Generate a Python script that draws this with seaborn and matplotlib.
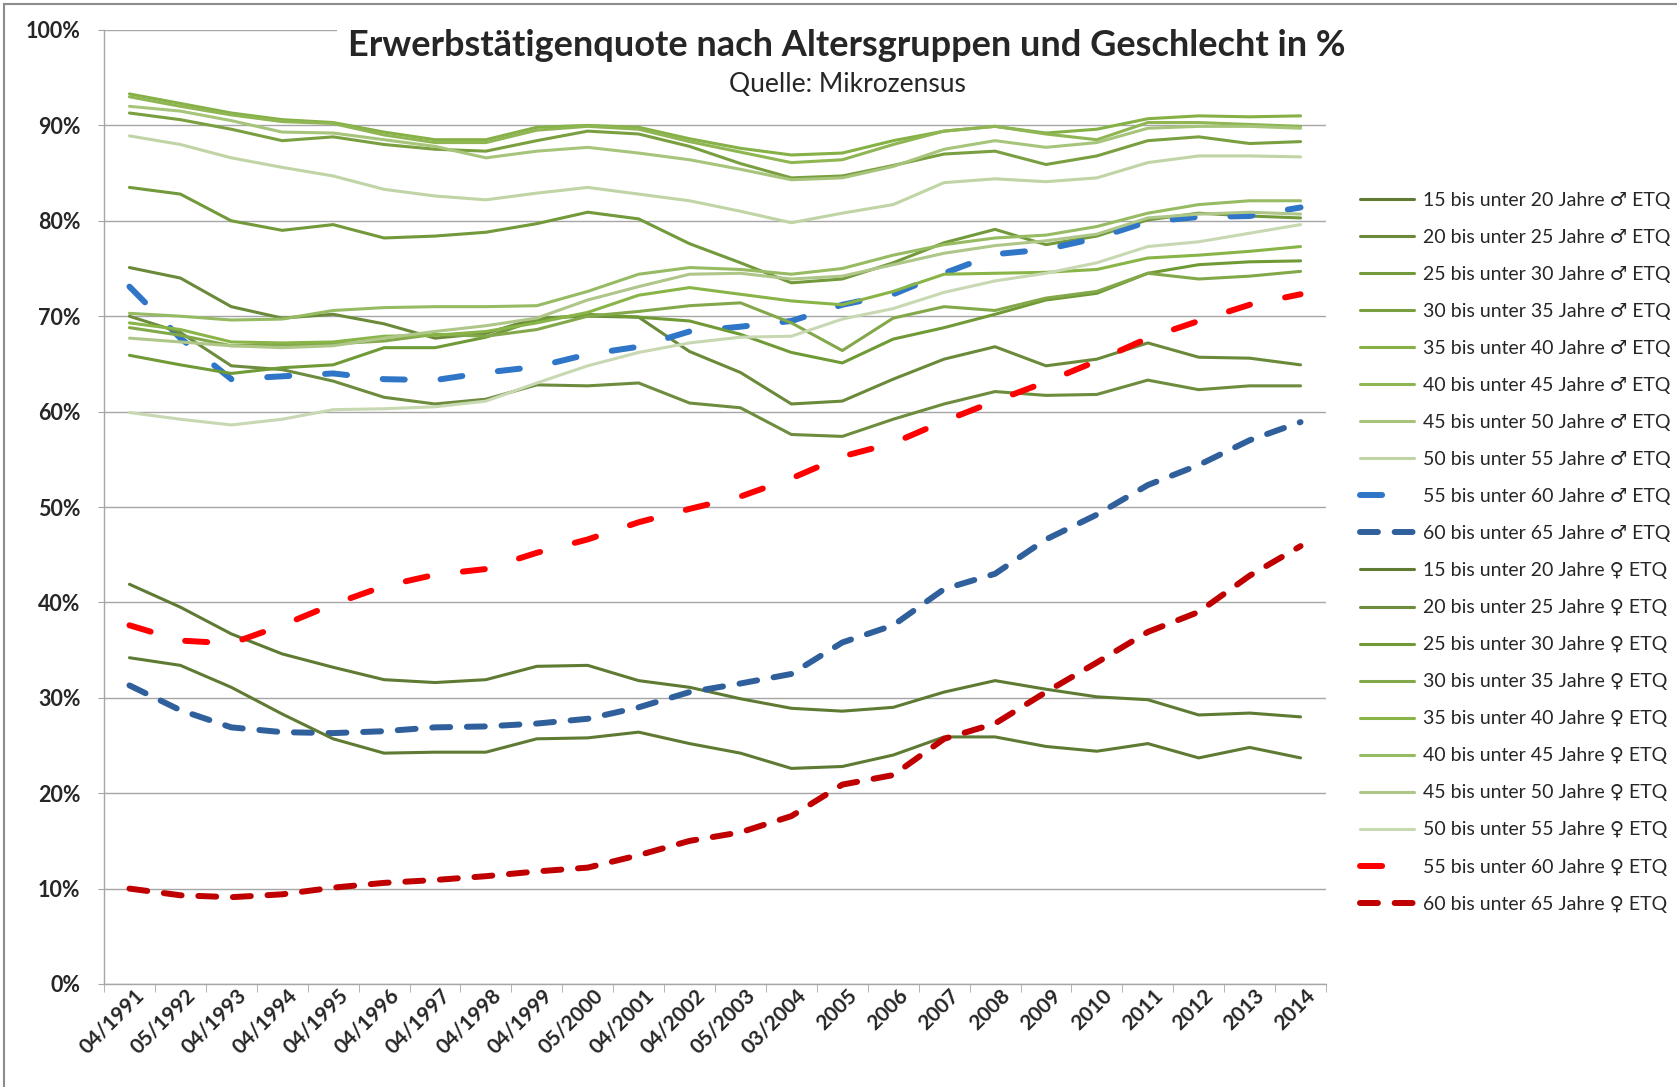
import matplotlib
matplotlib.use("Agg")
import matplotlib.pyplot as plt
import matplotlib.patches as mpatches
import matplotlib.transforms as mtransforms
from matplotlib.ticker import FixedLocator, FuncFormatter
import seaborn as sns

sns.set_style("white")
plt.rcParams["font.family"] = ["Lato", "DejaVu Sans"]
plt.rcParams["lines.dash_capstyle"] = "round"
plt.rcParams["lines.solid_capstyle"] = "round"

# Erhebungszeitpunkte
zeitpunkte = ['04/1991', '05/1992', '04/1993', '04/1994', '04/1995', '04/1996', '04/1997',
              '04/1998', '04/1999', '05/2000', '04/2001', '04/2002', '05/2003', '03/2004',
              '2005', '2006', '2007', '2008', '2009', '2010', '2011', '2012', '2013', '2014']

# Maenner, Erwerbstaetigenquote in %
m15_20 = [41.9, 39.5, 36.7, 34.6, 33.2, 31.9, 31.6, 31.9, 33.3, 33.4, 31.8, 31.1, 29.9, 28.9, 28.6, 29.0, 30.6, 31.8, 30.9, 30.1, 29.8, 28.2, 28.4, 28.0]
m20_25 = [75.1, 74.0, 71.0, 69.8, 70.2, 69.2, 67.7, 68.2, 69.8, 70.0, 69.9, 66.3, 64.1, 60.8, 61.1, 63.4, 65.5, 66.8, 64.8, 65.5, 67.2, 65.7, 65.6, 64.9]
m25_30 = [83.5, 82.8, 80.0, 79.0, 79.6, 78.2, 78.4, 78.8, 79.7, 80.9, 80.2, 77.6, 75.6, 73.5, 73.9, 75.6, 77.7, 79.1, 77.5, 78.4, 80.1, 80.8, 80.5, 80.3]
m30_35 = [91.3, 90.6, 89.6, 88.4, 88.8, 88.0, 87.5, 87.3, 88.4, 89.4, 89.1, 87.8, 86.0, 84.5, 84.7, 85.8, 87.0, 87.3, 85.9, 86.8, 88.4, 88.8, 88.1, 88.3]
m35_40 = [93.3, 92.3, 91.3, 90.6, 90.3, 89.3, 88.5, 88.5, 89.8, 90.0, 89.8, 88.6, 87.6, 86.9, 87.1, 88.4, 89.4, 89.9, 89.2, 89.6, 90.7, 91.0, 90.9, 91.0]
m40_45 = [93.0, 92.0, 91.1, 90.4, 90.2, 89.0, 88.2, 88.2, 89.5, 89.9, 89.6, 88.3, 87.2, 86.1, 86.4, 88.0, 89.4, 89.9, 89.1, 88.5, 90.3, 90.3, 90.1, 89.9]
m45_50 = [92.0, 91.5, 90.5, 89.3, 89.2, 88.5, 87.8, 86.6, 87.3, 87.7, 87.1, 86.4, 85.4, 84.3, 84.5, 85.7, 87.5, 88.4, 87.7, 88.2, 89.7, 89.9, 89.9, 89.7]
m50_55 = [88.9, 88.0, 86.6, 85.6, 84.7, 83.3, 82.6, 82.2, 82.9, 83.5, 82.8, 82.1, 81.0, 79.8, 80.8, 81.7, 84.0, 84.4, 84.1, 84.5, 86.1, 86.8, 86.8, 86.7]
m55_60 = [73.1, 67.7, 63.4, 63.7, 64.0, 63.4, 63.3, 64.1, 64.7, 66.0, 66.8, 68.4, 68.9, 69.5, 71.2, 72.3, 74.5, 76.5, 77.0, 78.2, 79.9, 80.4, 80.5, 81.4]
m60_65 = [31.3, 28.7, 26.9, 26.4, 26.3, 26.5, 26.9, 27.0, 27.3, 27.8, 29.0, 30.6, 31.5, 32.5, 35.8, 37.6, 41.4, 43.0, 46.6, 49.2, 52.3, 54.4, 57.0, 58.9]

# Frauen, Erwerbstaetigenquote in %
f15_20 = [34.2, 33.4, 31.1, 28.3, 25.7, 24.2, 24.3, 24.3, 25.7, 25.8, 26.4, 25.2, 24.2, 22.6, 22.8, 24.0, 25.9, 25.9, 24.9, 24.4, 25.2, 23.7, 24.8, 23.7]
f20_25 = [70.0, 68.3, 64.8, 64.4, 63.2, 61.5, 60.8, 61.3, 62.8, 62.7, 63.0, 60.9, 60.4, 57.6, 57.4, 59.2, 60.8, 62.1, 61.7, 61.8, 63.3, 62.3, 62.7, 62.7]
f25_30 = [65.9, 64.9, 64.0, 64.6, 64.9, 66.7, 66.7, 67.8, 69.6, 70.2, 69.9, 69.5, 68.1, 66.2, 65.1, 67.6, 68.8, 70.2, 71.7, 72.4, 74.5, 75.4, 75.7, 75.8]
f30_35 = [68.8, 68.0, 66.9, 67.0, 67.1, 67.4, 68.1, 67.9, 68.6, 70.0, 70.5, 71.1, 71.4, 69.3, 66.4, 69.8, 71.0, 70.6, 71.9, 72.6, 74.5, 73.9, 74.2, 74.7]
f35_40 = [69.3, 68.6, 67.3, 67.2, 67.3, 67.9, 68.0, 68.4, 69.3, 70.4, 72.2, 73.0, 72.3, 71.6, 71.2, 72.6, 74.4, 74.5, 74.6, 74.9, 76.1, 76.4, 76.8, 77.3]
f40_45 = [70.3, 70.0, 69.6, 69.7, 70.6, 70.9, 71.0, 71.0, 71.1, 72.6, 74.4, 75.1, 74.9, 74.4, 75.0, 76.4, 77.5, 78.2, 78.5, 79.4, 80.8, 81.7, 82.1, 82.1]
f45_50 = [67.7, 67.3, 66.9, 66.7, 66.9, 67.7, 68.4, 69.0, 69.8, 71.7, 73.1, 74.4, 74.5, 73.9, 74.2, 75.4, 76.6, 77.4, 77.9, 78.6, 80.3, 80.7, 80.9, 80.7]
f50_55 = [59.9, 59.2, 58.6, 59.2, 60.2, 60.3, 60.5, 61.1, 63.0, 64.8, 66.2, 67.2, 67.8, 67.9, 69.7, 70.8, 72.5, 73.7, 74.5, 75.6, 77.3, 77.8, 78.7, 79.6]
f55_60 = [37.6, 36.0, 35.7, 37.6, 39.8, 41.7, 42.9, 43.5, 45.2, 46.6, 48.4, 49.8, 51.1, 53.0, 55.3, 56.7, 59.0, 61.1, 63.1, 65.3, 67.7, 69.5, 71.2, 72.3]
f60_65 = [10.0, 9.3, 9.1, 9.4, 10.1, 10.6, 10.9, 11.3, 11.8, 12.2, 13.5, 15.0, 15.9, 17.6, 20.9, 21.9, 25.7, 27.3, 30.6, 33.7, 36.9, 39.0, 42.8, 45.9]

# (Name, Werte, Farbe, Linienart)
reihen = [
    ('15 bis unter 20 Jahre ♂ ETQ', m15_20, '#5e7a33', 'solid'),
    ('20 bis unter 25 Jahre ♂ ETQ', m20_25, '#6a8a3a', 'solid'),
    ('25 bis unter 30 Jahre ♂ ETQ', m25_30, '#72993a', 'solid'),
    ('30 bis unter 35 Jahre ♂ ETQ', m30_35, '#7a9f40', 'solid'),
    ('35 bis unter 40 Jahre ♂ ETQ', m35_40, '#85b146', 'solid'),
    ('40 bis unter 45 Jahre ♂ ETQ', m40_45, '#8fb653', 'solid'),
    ('45 bis unter 50 Jahre ♂ ETQ', m45_50, '#a7c47b', 'solid'),
    ('50 bis unter 55 Jahre ♂ ETQ', m50_55, '#c0d4a5', 'solid'),
    ('55 bis unter 60 Jahre ♂ ETQ', m55_60, '#2f75c8', 'lang'),
    ('60 bis unter 65 Jahre ♂ ETQ', m60_65, '#30609c', 'kurz'),
    ('15 bis unter 20 Jahre ♀ ETQ', f15_20, '#5e7a33', 'solid'),
    ('20 bis unter 25 Jahre ♀ ETQ', f20_25, '#6d8c3e', 'solid'),
    ('25 bis unter 30 Jahre ♀ ETQ', f25_30, '#6f9a36', 'solid'),
    ('30 bis unter 35 Jahre ♀ ETQ', f30_35, '#83a84a', 'solid'),
    ('35 bis unter 40 Jahre ♀ ETQ', f35_40, '#89b447', 'solid'),
    ('40 bis unter 45 Jahre ♀ ETQ', f40_45, '#97bb63', 'solid'),
    ('45 bis unter 50 Jahre ♀ ETQ', f45_50, '#aec688', 'solid'),
    ('50 bis unter 55 Jahre ♀ ETQ', f50_55, '#c8d8b2', 'solid'),
    ('55 bis unter 60 Jahre ♀ ETQ', f55_60, '#ff0000', 'lang'),
    ('60 bis unter 65 Jahre ♀ ETQ', f60_65, '#c00000', 'kurz'),
]

striche = {'solid': '-', 'lang': (0, (3.7, 6.0)), 'kurz': (0, (3.0, 2.8))}
breiten = {'solid': 2.2, 'lang': 4.3, 'kurz': 4.3}

W, H = 1677, 1087
fig = plt.figure(figsize=(W / 100, H / 100), dpi=100)
ax = fig.add_axes([104 / W, 1 - 984 / H, (1326 - 104) / W, (984 - 30) / H])

pos = list(range(len(zeitpunkte)))
for name, werte, farbe, art in reihen:
    sns.lineplot(x=pos, y=werte, color=farbe, linewidth=breiten[art],
                 linestyle=striche[art], ax=ax, label=name)

ax.set_xlim(-0.5, len(zeitpunkte) - 0.5)
ax.set_ylim(0, 100)
ax.set_xlabel('')
ax.set_ylabel('')

ax.yaxis.set_major_locator(FixedLocator(range(0, 101, 10)))
ax.yaxis.set_major_formatter(FuncFormatter(lambda v, p: f'{int(v)}%'))
ax.yaxis.grid(True, color='#a6a6a6', linewidth=1.0)
ax.set_axisbelow(True)

ax.set_xticks(pos)
ax.set_xticklabels(zeitpunkte)
ax.set_xticks([p - 0.5 for p in pos] + [pos[-1] + 0.5], minor=True)
ax.tick_params(axis='x', which='major', length=0, pad=6, labelsize=15)
ax.tick_params(axis='x', which='minor', length=6, color='#a6a6a6', direction='out', bottom=True)
ax.tick_params(axis='y', length=4, color='#a6a6a6', direction='out', left=True, pad=13, labelsize=15.5)
verschiebung = mtransforms.ScaledTranslation(12 / 100, 0, fig.dpi_scale_trans)
for t in ax.get_xticklabels():
    t.set_rotation(45)
    t.set_ha('right')
    t.set_va('center')
    t.set_rotation_mode('anchor')
    t.set_fontweight('bold')
    t.set_transform(t.get_transform() + verschiebung)
for t in ax.get_yticklabels():
    t.set_fontweight('bold')

for s in ['top', 'right']:
    ax.spines[s].set_visible(False)
for s in ['left', 'bottom']:
    ax.spines[s].set_color('#a6a6a6')
    ax.spines[s].set_linewidth(1.0)

handles, labels = ax.get_legend_handles_labels()
ax.legend(handles, labels, loc='upper left', bbox_to_anchor=(1360 / W, 1 - 192 / H),
          bbox_transform=fig.transFigure, frameon=False, fontsize=14,
          handlelength=2.8, handletextpad=0.45, labelspacing=1.03,
          borderpad=0, borderaxespad=0)

fig.text(847 / W, 1 - 45 / H, 'Erwerbstätigenquote nach Altersgruppen und Geschlecht in %',
         ha='center', va='center', fontsize=26, fontweight='bold',
         bbox=dict(facecolor='white', edgecolor='none', pad=8))
fig.text(847 / W, 1 - 84 / H, 'Quelle: Mikrozensus', ha='center', va='center', fontsize=19)

fig.add_artist(mpatches.Rectangle((4 / W, -0.05), 1.1, 1 - 4 / H + 0.05, transform=fig.transFigure,
                                  fill=False, edgecolor='#8c8c8c', linewidth=1.5))

fig.savefig('out.png', dpi=100)
